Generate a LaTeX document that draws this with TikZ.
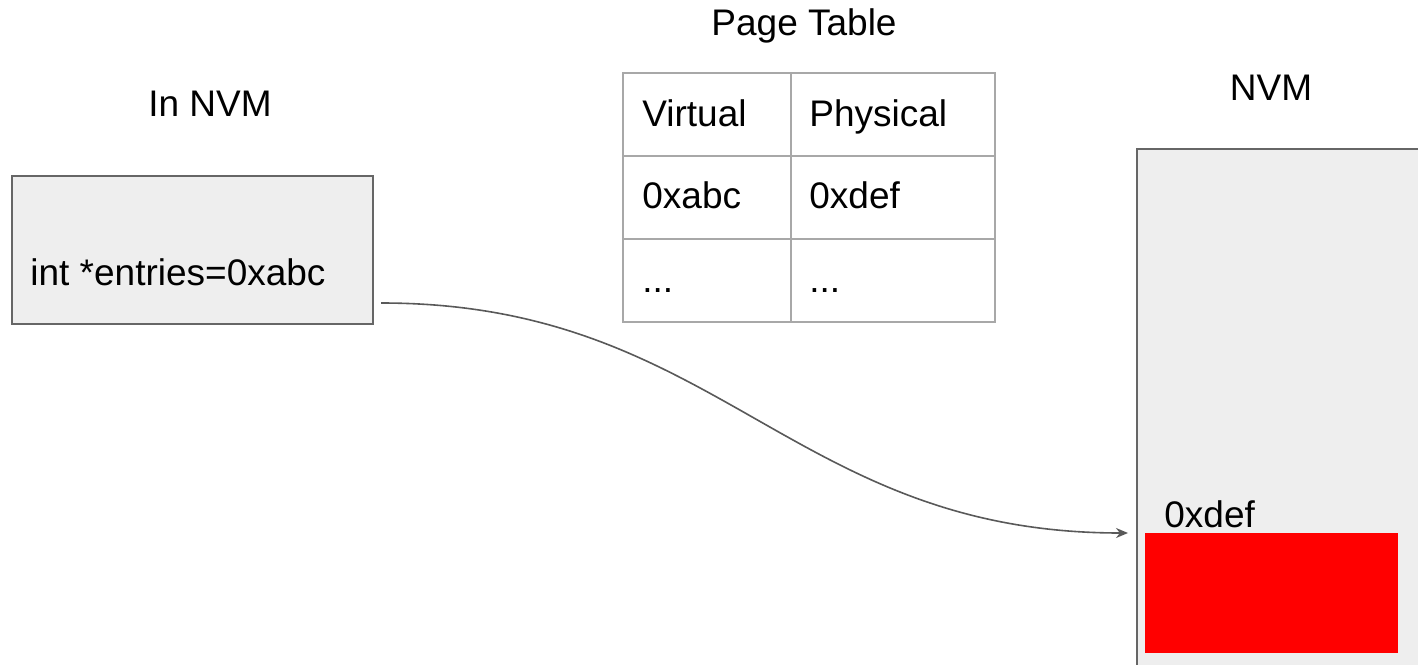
\documentclass[tikz,border=0pt]{standalone}
\usepackage{fontspec}
\setmainfont{Liberation Sans}
\usetikzlibrary{arrows.meta}
\definecolor{boxfill}{HTML}{EEEEEE}
\definecolor{boxedge}{HTML}{666666}
\definecolor{gridline}{HTML}{A8A8A8}
\definecolor{wire}{HTML}{595959}
\definecolor{block}{HTML}{FF0000}
\begin{document}
\begin{tikzpicture}[x=0.5pt,y=-0.5pt,
  txt/.style={font=\fontsize{18.5}{22}\selectfont, inner sep=0pt, text=black},
  membox/.style={draw=boxedge, fill=boxfill, line width=1pt, anchor=north west, inner sep=0pt},
  cellbox/.style={draw=gridline, line width=1pt, anchor=north west, inner sep=0pt, minimum height=41.5pt},
  narrowcol/.style={cellbox, minimum width=84pt},
  widecol/.style={cellbox, minimum width=102pt},
  pointer/.style={draw=wire, line width=0.8pt, -{Stealth[length=6pt,width=5pt]}},
]
\clip (0,0) rectangle (1418,664);

% titles
\node[txt, anchor=base] (lefttitle) at (210,116) {In NVM};
\node[txt, anchor=base] (pttitle) at (804,35) {Page Table};
\node[txt, anchor=base] (nvmtitle) at (1271,100) {NVM};

% object holding the pointer
\node[membox, minimum width=180.5pt, minimum height=74pt] (ptrbox) at (11,175) {};
\node[txt, anchor=base west] (ptrtext) at (30,285) {int *entries=0xabc};

% page table grid
\node[narrowcol] (c11) at (622,72) {};
\node[widecol]   (c12) at (790,72) {};
\node[narrowcol] (c21) at (622,155) {};
\node[widecol]   (c22) at (790,155) {};
\node[narrowcol] (c31) at (622,238) {};
\node[widecol]   (c32) at (790,238) {};
\node[txt, anchor=base west] (t11) at (642,126) {Virtual};
\node[txt, anchor=base west] (t12) at (809,126) {Physical};
\node[txt, anchor=base west] (t21) at (642,208) {0xabc};
\node[txt, anchor=base west] (t22) at (809,208) {0xdef};
\node[txt, anchor=base west] (t31) at (642,292) {...};
\node[txt, anchor=base west] (t32) at (809,292) {...};

% physical memory region
\node[membox, minimum width=150pt, minimum height=270pt] (nvm) at (1136,148) {};
\node[fill=block, anchor=north west, inner sep=0pt, minimum width=126.5pt, minimum height=60pt] (target) at (1145,533) {};
\node[txt, anchor=base west] (targetlabel) at (1164,527) {0xdef};

% pointer into NVM
\coordinate (ptrstart) at (381,303);
\coordinate (ptrend) at (1128,533);
\draw[pointer] (ptrstart) .. controls (720,303) and (790,533) .. (ptrend);
\end{tikzpicture}
\end{document}
